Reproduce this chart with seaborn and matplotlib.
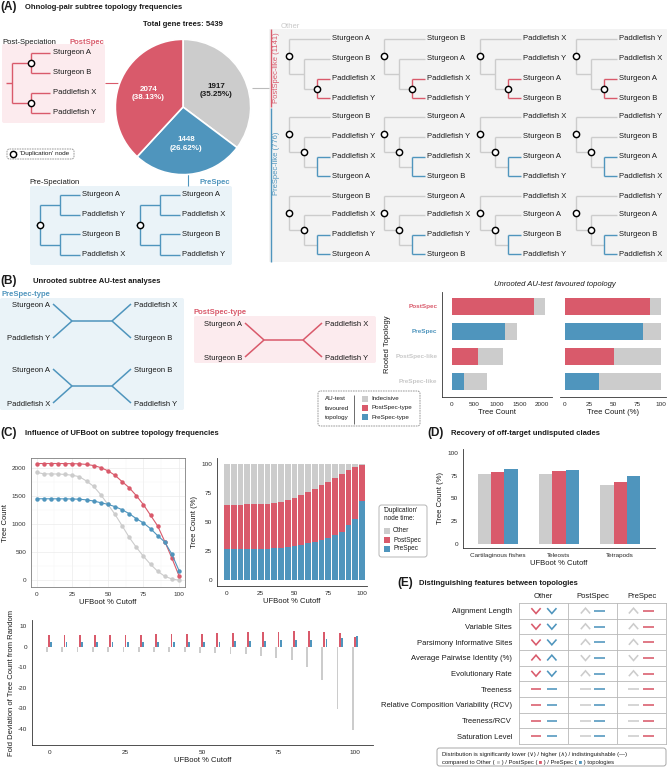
import matplotlib
matplotlib.use('Agg')
import numpy as np
import pandas as pd
import matplotlib.pyplot as plt
import seaborn as sns
from matplotlib.patches import FancyBboxPatch, Rectangle

# ---------------- data ----------------
pie_topologies = ['Other', 'PreSpec', 'PostSpec']
pie_counts = [1917, 1448, 2074]

other_subsets = ['PostSpec-like', 'PreSpec-like']
other_subset_counts = [1141, 776]

postspec_tree_tips = ['Sturgeon A', 'Sturgeon B', 'Paddlefish X', 'Paddlefish Y']
prespec_tree_tips = [['Sturgeon A', 'Paddlefish Y', 'Sturgeon B', 'Paddlefish X'],
                     ['Sturgeon A', 'Paddlefish X', 'Sturgeon B', 'Paddlefish Y']]
other_tree_tips = [
    [['Sturgeon A', 'Sturgeon B', 'Paddlefish X', 'Paddlefish Y'],
     ['Sturgeon B', 'Sturgeon A', 'Paddlefish X', 'Paddlefish Y'],
     ['Paddlefish X', 'Paddlefish Y', 'Sturgeon A', 'Sturgeon B'],
     ['Paddlefish Y', 'Paddlefish X', 'Sturgeon A', 'Sturgeon B']],
    [['Sturgeon B', 'Paddlefish Y', 'Paddlefish X', 'Sturgeon A'],
     ['Sturgeon A', 'Paddlefish Y', 'Paddlefish X', 'Sturgeon B'],
     ['Paddlefish X', 'Sturgeon B', 'Sturgeon A', 'Paddlefish Y'],
     ['Paddlefish Y', 'Sturgeon B', 'Sturgeon A', 'Paddlefish X']],
    [['Sturgeon B', 'Paddlefish X', 'Paddlefish Y', 'Sturgeon A'],
     ['Sturgeon A', 'Paddlefish X', 'Paddlefish Y', 'Sturgeon B'],
     ['Paddlefish X', 'Sturgeon A', 'Sturgeon B', 'Paddlefish Y'],
     ['Paddlefish Y', 'Sturgeon A', 'Sturgeon B', 'Paddlefish X']],
]

prespec_unrooted = [('Sturgeon A', 'Paddlefish Y', 'Paddlefish X', 'Sturgeon B'),
                    ('Sturgeon A', 'Paddlefish X', 'Sturgeon B', 'Paddlefish Y')]
postspec_unrooted = ('Sturgeon A', 'Sturgeon B', 'Paddlefish X', 'Paddlefish Y')

au_topologies = ['PostSpec', 'PreSpec', 'PostSpec-like', 'PreSpec-like']
au_total = [2074, 1448, 1141, 776]
au_favoured = [1830, 1170, 578, 276]
au_favoured_type = ['PostSpec-type', 'PreSpec-type', 'PostSpec-type', 'PreSpec-type']

cutoffs = [0, 5, 10, 15, 20, 25, 30, 35, 40, 45, 50, 55, 60, 65, 70, 75, 80, 85, 90, 95, 100]
count_postspec = [2074, 2074, 2074, 2074, 2073, 2071, 2068, 2058, 2038, 2002, 1945,
                  1866, 1752, 1645, 1503, 1343, 1155, 965, 688, 393, 78]
count_other = [1917, 1890, 1889, 1887, 1880, 1866, 1840, 1763, 1669, 1521, 1349,
               1172, 970, 763, 586, 426, 284, 160, 71, 24, 3]
count_prespec = [1448, 1448, 1447, 1447, 1446, 1444, 1440, 1428, 1408, 1378, 1349,
                 1308, 1254, 1183, 1095, 1018, 917, 793, 680, 462, 172]

fold_other = [-2.4, -2.5, -2.5, -2.5, -2.6, -2.6, -2.6, -2.7, -2.7, -2.8, -2.9,
              -3.1, -3.4, -3.8, -4.4, -5.4, -6.6, -9.8, -16.3, -30.3, -40.5]
fold_postspec = [5.7, 5.7, 5.7, 5.7, 5.7, 5.7, 5.8, 5.9, 6.0, 6.2, 6.3,
                 6.6, 6.7, 7.0, 7.1, 7.3, 7.5, 7.6, 7.3, 6.8, 4.8]
fold_prespec = [2.2, 2.2, 2.2, 2.2, 2.2, 2.2, 2.2, 2.2, 2.3, 2.3, 2.4,
                2.4, 2.5, 2.7, 2.9, 3.0, 3.2, 3.3, 3.7, 4.0, 5.2]

clades = ['Cartilaginous fishes', 'Teleosts', 'Tetrapods']
clade_other = [76.8, 77.1, 64.9]
clade_postspec = [79.0, 80.4, 67.9]
clade_prespec = [82.7, 81.5, 74.9]

features = ['Alignment Length', 'Variable Sites', 'Parsimony Informative Sites',
            'Average Pairwise Identity (%)', 'Evolutionary Rate', 'Treeness',
            'Relative Composition Variability (RCV)', 'Treeness/RCV', 'Saturation Level']
table_columns = ['Other', 'PostSpec', 'PreSpec']
sym_other_vs_postspec = ['v', 'v', 'v', '^', 'v', '-', '-', '-', '-']
sym_other_vs_prespec = ['v', 'v', 'v', '^', 'v', '-', '-', '-', '-']
sym_postspec_vs_other = ['^', '^', '^', 'v', '^', '-', '-', '-', '-']
sym_postspec_vs_prespec = ['-', '-', '-', '-', '-', '-', '-', '-', '-']
sym_prespec_vs_other = ['^', '^', '^', 'v', '^', '-', '-', '-', '-']
sym_prespec_vs_postspec = ['-', '-', '-', '-', '-', '-', '-', '-', '-']

# ---------------- style ----------------
RED = '#D95A6B'
BLUE = '#4F95BD'
GREY = '#CCCCCC'
LGREY = '#C8C8C8'
PINK_BG = '#FCEBEE'
BLUE_BG = '#EAF3F8'
GREY_BG = '#F3F3F3'
INK = '#1A1A1A'
AX = '#333333'
TXT = 5.5
TICK = 4.6
pal = {'Other': GREY, 'PostSpec': RED, 'PreSpec': BLUE}
order3 = ['Other', 'PostSpec', 'PreSpec']

sns.set_theme(style='white')
plt.rcParams['font.family'] = ['Liberation Sans', 'DejaVu Sans']
plt.rcParams['axes.unicode_minus'] = False

W, H = 667, 768
fig = plt.figure(figsize=(W / 100, H / 100), dpi=100)


def rect(x, y, w, h):
    return [x / W, 1 - (y + h) / H, w / W, h / H]


ov = fig.add_axes([0, 0, 1, 1])
ov.set_xlim(0, W)
ov.set_ylim(H, 0)
ov.axis('off')


def T(x, y, s, size=TXT, color=INK, ha='left', va='center', **kw):
    return ov.text(x, y, s, fontsize=size, color=color, ha=ha, va=va, **kw)


def L(xs, ys, c, lw=1.0, z=2):
    ov.plot(xs, ys, color=c, lw=lw, solid_capstyle='butt', zorder=z)


def C(x, y):
    ov.plot([x], [y], 'o', ms=4.5, mfc='white', mec='black', mew=1.05, zorder=5)


def box(x, y, w, h, fc, ec='none', ls='-', lw=0.6, r=2.0):
    ov.add_patch(FancyBboxPatch((x, y), w, h, boxstyle=f'round,pad=0,rounding_size={r}',
                                fc=fc, ec=ec, ls=ls, lw=lw, zorder=1))


def header(x, y, letter, title, tx):
    T(x, y, letter, size=8.5, weight='bold')
    T(tx, y + 0.5, title, size=TXT, weight='bold')


def style_classic(ax):
    sns.despine(ax=ax)
    for s in ('left', 'bottom'):
        ax.spines[s].set_color(AX)
        ax.spines[s].set_linewidth(0.6)
    ax.tick_params(length=2, width=0.5, pad=1.5, labelsize=TICK, colors=AX)
    ax.tick_params(axis='both', labelcolor='#2A2A2A')
    ax.grid(False)


# ================= Panel A =================
header(0, 7, '(A)', 'Ohnolog-pair subtree topology frequencies', 25)
T(183, 25, f'Total gene trees: {sum(pie_counts)}', weight='bold', ha='center')

# PostSpec box + balanced tree
box(2, 44, 103, 79, PINK_BG)
T(2, 42, 'Post-Speciation')
T(69, 42, 'PostSpec', color=RED, weight='bold')
ys = [53, 73, 93, 113]
xr, xn, xt = 12, 31, 53
y1, y2 = (ys[0] + ys[1]) / 2, (ys[2] + ys[3]) / 2
L([xr, xr], [y1, y2], RED)
L([xr - 6, xr], [(y1 + y2) / 2] * 2, RED)
L([xr, xn], [y1, y1], RED)
L([xr, xn], [y2, y2], RED)
L([xn, xn], [ys[0], ys[1]], RED)
L([xn, xn], [ys[2], ys[3]], RED)
for yy, lab in zip(ys, postspec_tree_tips):
    L([xn, xt - 3], [yy, yy], RED)
    T(xt, yy, lab)
C(xn, y1)
C(xn, y2)
L([105, 118], [83, 83], RED, lw=0.8)

# duplication node legend
box(7, 149, 67, 10, 'white', ec='#8A8A8A', ls=(0, (2, 1)), lw=0.6, r=2.5)
C(12.5, 154)
T(16, 154, ": 'Duplication' node", size=4.6)

# PreSpec box + 2 balanced trees
box(30, 186, 202, 79, BLUE_BG)
T(29, 183, 'Pre-Speciation')
T(200, 183, 'PreSpec', color=BLUE, weight='bold')
ys = [195, 215, 234, 255]
for k, tips in enumerate(prespec_tree_tips):
    xr = 40 + 100 * k
    xn, xt = xr + 20, xr + 42
    y1, y2 = (ys[0] + ys[1]) / 2, (ys[2] + ys[3]) / 2
    L([xr, xr], [y1, y2], BLUE)
    L([xr - 4, xr], [(y1 + y2) / 2] * 2, BLUE)
    L([xr, xn], [y1, y1], BLUE)
    L([xr, xn], [y2, y2], BLUE)
    L([xn, xn], [ys[0], ys[1]], BLUE)
    L([xn, xn], [ys[2], ys[3]], BLUE)
    for yy, lab in zip(ys, tips):
        L([xn, xt - 2], [yy, yy], BLUE)
        T(xt, yy, lab)
    C(xr, (y1 + y2) / 2)
L([188, 188], [174, 186], BLUE, lw=0.8)

# Other box with 12 caterpillar trees
box(269, 29, 398, 233, GREY_BG, r=1.0)
T(281, 27, 'Other', color=LGREY)
L([270.5, 270.5], [29, 107], RED, lw=1.0)
L([270.5, 270.5], [108, 262], BLUE, lw=1.0)
T(276, 68, f'{other_subsets[0]} ({other_subset_counts[0]})', color=RED, rotation=90, ha='center')
T(276, 163, f'{other_subsets[1]} ({other_subset_counts[1]})', color=BLUE, rotation=90, ha='center')
L([252, 269], [88, 88], '#BBBBBB', lw=0.8)

col_x = [332, 427, 523, 619]
row_y = [[39, 59, 79, 98], [117, 137, 157, 176], [196, 215, 235, 254]]
for r, row in enumerate(other_tree_tips):
    cc = RED if r == 0 else BLUE
    ys = row_y[r]
    for c, tips in enumerate(row):
        xt = col_x[c]
        xr, x2, x3 = xt - 43, xt - 28, xt - 15
        m3 = (ys[2] + ys[3]) / 2
        m2 = (ys[1] + m3) / 2
        mr = (ys[0] + m2) / 2
        L([xr, xr], [ys[0], m2], GREY)
        L([xr, xt - 2], [ys[0], ys[0]], GREY)
        L([xr, x2], [m2, m2], GREY)
        L([x2, x2], [ys[1], m3], GREY)
        L([x2, xt - 2], [ys[1], ys[1]], GREY)
        L([x2, x3], [m3, m3], GREY)
        L([x3, x3], [ys[2], ys[3]], cc)
        L([x3, xt - 2], [ys[2], ys[2]], cc)
        L([x3, xt - 2], [ys[3], ys[3]], cc)
        for yy, lab in zip(ys, tips):
            T(xt, yy, lab)
        C(xr, mr)
        if r == 0:
            C(x3, m3)
        else:
            C(x2, m2)

# pie
axP = fig.add_axes(rect(114, 38, 138, 138))
total = sum(pie_counts)
wedges, texts, autot = axP.pie(
    pie_counts, colors=[pal[t] for t in pie_topologies], startangle=90, counterclock=False,
    wedgeprops=dict(edgecolor='white', linewidth=1.2),
    autopct=lambda p: f'{round(p * total / 100)}\n({p:.2f}%)', pctdistance=0.55,
    textprops=dict(fontsize=5.8, weight='bold', linespacing=1.3))
for t, name in zip(autot, pie_topologies):
    t.set_color(INK if name == 'Other' else 'white')
axP.set_xlim(-1.02, 1.02)
axP.set_ylim(-1.02, 1.02)
axP.set_aspect('equal')

# ================= Panel B =================
header(0, 281, '(B)', 'Unrooted subtree AU-test analyses', 33)
T(1, 295, 'PreSpec-type', color=BLUE, weight='bold')
box(0, 298, 184, 112, BLUE_BG)
T(194, 313, 'PostSpec-type', color=RED, weight='bold')
box(194, 316, 182, 47, PINK_BG)


def unrooted(cx1, cx2, cy, labels, col, dx=19, dy=17):
    L([cx1, cx2], [cy, cy], col, lw=1.1)
    L([cx1, cx1 - dx], [cy, cy - dy], col, lw=1.1)
    L([cx1, cx1 - dx], [cy, cy + dy], col, lw=1.1)
    L([cx2, cx2 + dx], [cy, cy - dy], col, lw=1.1)
    L([cx2, cx2 + dx], [cy, cy + dy], col, lw=1.1)
    T(cx1 - dx - 3, cy - dy + 1.5, labels[0], ha='right')
    T(cx1 - dx - 3, cy + dy + 1, labels[1], ha='right')
    T(cx2 + dx + 3, cy - dy + 1.5, labels[2])
    T(cx2 + dx + 3, cy + dy + 1, labels[3])


unrooted(72, 112, 321, prespec_unrooted[0], BLUE)
unrooted(72, 112, 386, prespec_unrooted[1], BLUE)
unrooted(264, 303, 340, postspec_unrooted, RED)

dfB = pd.DataFrame({'topology': au_topologies, 'total': au_total,
                    'favoured': au_favoured, 'type': au_favoured_type})
dfB['total_pct'] = 100.0
dfB['fav_pct'] = dfB['favoured'] / dfB['total'] * 100
type_pal = {'PostSpec-type': RED, 'PreSpec-type': BLUE}
nb = dict(linewidth=0, edgecolor='none')

axB1 = fig.add_axes(rect(442, 292, 110, 105))
sns.barplot(data=dfB, x='total', y='topology', color=GREY, width=0.68, saturation=1,
            orient='h', ax=axB1, **nb)
sns.barplot(data=dfB, x='favoured', y='topology', hue='type', palette=type_pal, width=0.68,
            saturation=1, dodge=False, legend=False, orient='h', ax=axB1, **nb)
axB1.set_xlim(-222, 2222)
axB1.set_ylim(3.64, -0.56)
axB1.set_xticks([0, 500, 1000, 1500, 2000])
style_classic(axB1)
axB1.set_xlabel('Tree Count', fontsize=TXT, labelpad=1.5, color=INK)
axB1.set_ylabel('Rooted Topology', fontsize=TXT, labelpad=3, color=INK)
lab_cols = [RED, BLUE, LGREY, LGREY]
for tl, cc in zip(axB1.get_yticklabels(), lab_cols):
    tl.set_color(cc)
    tl.set_fontweight('bold')

axB2 = fig.add_axes(rect(560, 292, 106, 105))
sns.barplot(data=dfB, x='total_pct', y='topology', color=GREY, width=0.68, saturation=1,
            orient='h', ax=axB2, **nb)
sns.barplot(data=dfB, x='fav_pct', y='topology', hue='type', palette=type_pal, width=0.68,
            saturation=1, dodge=False, legend=False, orient='h', ax=axB2, **nb)
axB2.set_xlim(-5.2, 105.2)
axB2.set_ylim(3.64, -0.56)
axB2.set_xticks([0, 25, 50, 75, 100])
style_classic(axB2)
axB2.spines['left'].set_visible(False)
axB2.set_yticks([])
axB2.set_ylabel('')
axB2.set_xlabel('Tree Count (%)', fontsize=TXT, labelpad=1.5, color=INK)
T(555, 285, 'Unrooted AU-test favoured topology', style='italic', ha='center')

# B legend
box(318, 391, 102, 35, 'white', ec='#8A8A8A', ls=(0, (2, 1)), lw=0.6, r=2.5)
for yy, s in zip([399, 408, 417], ['AU-test', 'favoured', 'topology']):
    T(325, yy, s, size=4.5)
L([354, 354], [395, 424], '#555555', lw=0.6)
for yy, s, cc in zip([399, 408, 417], ['Indecisive', 'PostSpec-type', 'PreSpec-type'],
                     [GREY, RED, BLUE]):
    ov.add_patch(Rectangle((362, yy - 3), 6, 6, fc=cc, ec='none', zorder=3))
    T(371, yy, s, size=4.5)

# ================= Panel C =================
header(0, 433, '(C)', 'Influence of UFBoot on subtree topology frequencies', 25)
dfC = pd.DataFrame({'cutoff': cutoffs * 3,
                    'count': count_other + count_postspec + count_prespec,
                    'topology': ['Other'] * 21 + ['PostSpec'] * 21 + ['PreSpec'] * 21})
axC1 = fig.add_axes(rect(31, 458, 154, 129))
axC1.set_axisbelow(True)
axC1.set_xticks([0, 25, 50, 75, 100])
axC1.set_xticks([12.5, 37.5, 62.5, 87.5], minor=True)
axC1.set_yticks([0, 500, 1000, 1500, 2000])
axC1.set_yticks([250, 750, 1250, 1750], minor=True)
axC1.grid(True, which='major', color='#EBEBEB', lw=0.5)
axC1.grid(True, which='minor', color='#F3F3F3', lw=0.3)
sns.lineplot(data=dfC, x='cutoff', y='count', hue='topology', hue_order=order3, palette=pal,
             marker='o', markersize=3.2, markeredgewidth=0, linewidth=0.8, legend=False, ax=axC1)
axC1.set_xlim(-4.0, 104.2)
axC1.set_ylim(-119, 2172)
for s in axC1.spines.values():
    s.set_color('#7F7F7F')
    s.set_linewidth(0.6)
    s.set_visible(True)
axC1.tick_params(which='major', length=2, width=0.5, pad=1.5, labelsize=TICK, colors=AX)
axC1.tick_params(which='minor', length=0)
axC1.set_xlabel('UFBoot % Cutoff', fontsize=TXT, labelpad=1.5, color=INK)
axC1.set_ylabel('Tree Count', fontsize=TXT, labelpad=2, color=INK)

# stacked percentage
cnt_o = np.array(count_other, float)
cnt_post = np.array(count_postspec, float)
cnt_pre = np.array(count_prespec, float)
tot = cnt_o + cnt_post + cnt_pre
dfS = pd.DataFrame({'cutoff': cutoffs, 'all': tot / tot * 100,
                    'pre_post': (cnt_pre + cnt_post) / tot * 100,
                    'pre': cnt_pre / tot * 100})
axC2 = fig.add_axes(rect(217, 458, 150, 128))
for col, cc in (('all', GREY), ('pre_post', RED), ('pre', BLUE)):
    sns.barplot(data=dfS, x='cutoff', y=col, native_scale=True, color=cc, width=0.85,
                saturation=1, ax=axC2, **nb)
axC2.set_xlim(-7.4, 103.7)
axC2.set_ylim(-5.2, 105.2)
axC2.set_xticks([0, 25, 50, 75, 100])
axC2.set_yticks([0, 25, 50, 75, 100])
style_classic(axC2)
axC2.set_xlabel('UFBoot % Cutoff', fontsize=TXT, labelpad=1.5, color=INK)
axC2.set_ylabel('Tree Count (%)', fontsize=TXT, labelpad=2, color=INK)

# C legend
box(379, 505, 48, 52, 'white', ec='#AAAAAA', lw=0.6, r=2.5)
T(384, 510, "'Duplication'", size=4.7)
T(384, 518, 'node time:', size=4.7)
for yy, s in zip([531, 540, 549], order3):
    ov.add_patch(Rectangle((384, yy - 3), 6, 6, fc=pal[s], ec='none', zorder=3))
    T(393, yy, s, size=4.7)

# fold deviation
dfF = pd.DataFrame({'cutoff': cutoffs * 3,
                    'fold': fold_other + fold_postspec + fold_prespec,
                    'topology': ['Other'] * 21 + ['PostSpec'] * 21 + ['PreSpec'] * 21})
axC3 = fig.add_axes(rect(32, 620, 341, 125))
sns.barplot(data=dfF, x='cutoff', y='fold', hue='topology', hue_order=order3, palette=pal,
            native_scale=True, width=0.42, gap=0.15, saturation=1, legend=False, ax=axC3, **nb)
axC3.set_xlim(-5.6, 105.9)
axC3.set_ylim(-47.7, 12.9)
axC3.set_xticks([0, 25, 50, 75, 100])
axC3.set_yticks([10, 0, -10, -20, -30, -40])
style_classic(axC3)
axC3.set_xlabel('UFBoot % Cutoff', fontsize=TXT, labelpad=1.5, color=INK)
axC3.set_ylabel('Fold Deviation of Tree Count from Random', fontsize=TXT, labelpad=2, color=INK)

# ================= Panel D =================
header(427, 433, '(D)', 'Recovery of off-target undisputed clades', 451)
dfD = pd.DataFrame({'clade': clades * 3,
                    'pct': clade_other + clade_postspec + clade_prespec,
                    'topology': ['Other'] * 3 + ['PostSpec'] * 3 + ['PreSpec'] * 3})
axD = fig.add_axes(rect(463, 449, 192, 99))
sns.barplot(data=dfD, x='clade', y='pct', hue='topology', hue_order=order3, palette=pal,
            width=0.65, gap=0, saturation=1, legend=False, ax=axD, **nb)
axD.set_xlim(-0.57, 2.57)
axD.set_ylim(-4.4, 104.4)
axD.set_yticks([0, 25, 50, 75, 100])
style_classic(axD)
axD.set_xlabel('UFBoot % Cutoff', fontsize=TXT, labelpad=1.5, color=INK)
axD.set_ylabel('Tree Count (%)', fontsize=TXT, labelpad=2, color=INK)

# ================= Panel E =================
header(397, 583, '(E)', 'Distinguishing features between topologies', 419)
axE = fig.add_axes(rect(519, 603, 147, 141))
nrow = len(features)
axE.set_xlim(0, 3)
axE.set_ylim(nrow, 0)
for i in range(1, nrow):
    axE.axhline(i, color='#B8B8B8', lw=0.6)
for j in (1, 2):
    axE.axvline(j, color='#B8B8B8', lw=0.6)
for s in axE.spines.values():
    s.set_visible(True)
    s.set_color('#B8B8B8')
    s.set_linewidth(0.6)
axE.set_xticks([])
axE.set_yticks(np.arange(nrow) + 0.5)
axE.set_yticklabels(features, fontsize=TXT, color=INK)
axE.tick_params(axis='y', length=0, pad=5)
axE.grid(False)
for j, name in enumerate(table_columns):
    axE.text(j + 0.5, -0.4, name, ha='center', va='center', fontsize=TXT, color=INK,
             clip_on=False)


def sym(ax, x, y, kind, color):
    hw, hh = 0.095, 0.17
    kw = dict(color=color, lw=1.15, solid_capstyle='butt', solid_joinstyle='miter')
    if kind == 'v':
        ax.plot([x - hw, x, x + hw], [y - hh, y + hh, y - hh], **kw)
    elif kind == '^':
        ax.plot([x - hw, x, x + hw], [y + hh, y - hh, y + hh], **kw)
    else:
        ax.plot([x - 0.105, x + 0.105], [y, y], **kw)


cols_syms = [
    (0, [(-0.153, sym_other_vs_postspec, RED), (0.17, sym_other_vs_prespec, BLUE)]),
    (1, [(-0.143, sym_postspec_vs_other, GREY), (0.143, sym_postspec_vs_prespec, BLUE)]),
    (2, [(-0.163, sym_prespec_vs_other, GREY), (0.143, sym_prespec_vs_postspec, RED)]),
]
for j, pairs in cols_syms:
    for off, syms, cc in pairs:
        for i, kind in enumerate(syms):
            sym(axE, j + 0.5 + off, i + 0.5, kind, cc)

# E legend
box(437, 748, 229, 18, 'white', ec='#9A9A9A', lw=0.6, r=2.5)
T(442, 754.5, 'Distribution is significantly lower (\u2228) / higher (\u2227) / indistinguishable (\u2014)',
  size=4.2)
parts = [('compared to Other (', INK), (' \u25A0', GREY), (' ) / PostSpec (', INK),
         (' \u25A0', RED), (' ) / PreSpec (', INK), (' \u25A0', BLUE), (' ) topologies', INK)]
t = ov.text(442, 765, parts[0][0], fontsize=4.2, color=parts[0][1], ha='left', va='bottom')
for s, cc in parts[1:]:
    t = ov.annotate(s, xy=(1, 0), xycoords=t, fontsize=4.2, color=cc, ha='left', va='bottom')

fig.savefig('out.png', dpi=100)
